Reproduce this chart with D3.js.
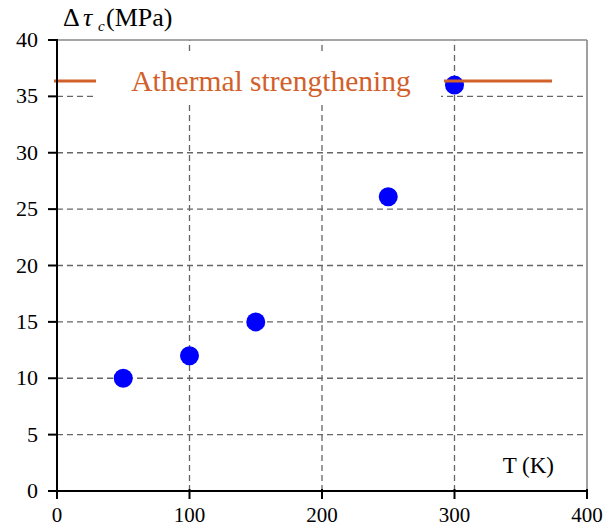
<!DOCTYPE html>
<html>
<head>
<meta charset="utf-8">
<script src="https://cdn.jsdelivr.net/npm/d3@7"></script>
<style>
  body { margin: 0; background: #fff; }
  svg text { font-family: "Liberation Serif", "Times New Roman", Times, serif; }
</style>
</head>
<body>
<div id="chart"></div>
<script>
// Messwerte
const temps = [50, 100, 150, 250, 300];
const dTau = [10, 12, 15, 26.1, 36];
const xTicks = [0, 100, 200, 300, 400];
const yTicks = [0, 5, 10, 15, 20, 25, 30, 35, 40];
const legendLabel = "Athermal strengthening";

const width = 611, height = 528;
const margin = { top: 40, right: 24, bottom: 37, left: 57 };
const orange = "#d2602a";

const svg = d3.select("#chart").append("svg")
    .attr("width", width)
    .attr("height", height);

const x = d3.scaleLinear().domain([0, 400]).range([margin.left, width - margin.right]);
const y = d3.scaleLinear().domain([0, 40]).range([height - margin.bottom, margin.top]);

// Gitterlinien
svg.append("g").selectAll("line")
    .data(yTicks.filter(d => d > 0 && d < 40))
    .enter().append("line")
    .attr("x1", x(0)).attr("x2", x(400))
    .attr("y1", d => y(d)).attr("y2", d => y(d))
    .attr("stroke", "#666")
    .attr("stroke-width", 1.3)
    .attr("stroke-dasharray", "6,4");

svg.append("g").selectAll("line")
    .data(xTicks.filter(d => d > 0 && d < 400))
    .enter().append("line")
    .attr("x1", d => x(d)).attr("x2", d => x(d))
    .attr("y1", y(0)).attr("y2", y(40))
    .attr("stroke", "#666")
    .attr("stroke-width", 1.3)
    .attr("stroke-dasharray", "6,4");

// Rahmen oben / rechts
svg.append("line")
    .attr("x1", x(0)).attr("x2", x(400))
    .attr("y1", y(40)).attr("y2", y(40))
    .attr("stroke", "#888").attr("stroke-width", 1.6);
svg.append("line")
    .attr("x1", x(400)).attr("x2", x(400))
    .attr("y1", y(0)).attr("y2", y(40))
    .attr("stroke", "#888").attr("stroke-width", 1.6);

// Legende (weißer Kasten über dem Gitter)
svg.append("rect")
    .attr("x", 96).attr("y", 55)
    .attr("width", 345).attr("height", 50)
    .attr("fill", "#fff");

svg.append("text")
    .attr("x", 271).attr("y", 91)
    .attr("text-anchor", "middle")
    .attr("fill", orange)
    .style("font-size", "29.5px")
    .text(legendLabel);

svg.append("line")
    .attr("x1", 54).attr("x2", 96)
    .attr("y1", 81).attr("y2", 81)
    .attr("stroke", orange).attr("stroke-width", 3);

// Punkte
svg.append("g").selectAll("circle")
    .data(temps.map((t, i) => [t, dTau[i]]))
    .enter().append("circle")
    .attr("cx", d => x(d[0]))
    .attr("cy", d => y(d[1]))
    .attr("r", 9.5)
    .attr("fill", "#0000ff");

svg.append("line")
    .attr("x1", 444).attr("x2", 552)
    .attr("y1", 81).attr("y2", 81)
    .attr("stroke", orange).attr("stroke-width", 3);

// Achsen
svg.append("line")
    .attr("x1", x(0)).attr("x2", x(0))
    .attr("y1", y(0) + 1).attr("y2", y(40))
    .attr("stroke", "#000").attr("stroke-width", 2);
svg.append("line")
    .attr("x1", x(0) - 1).attr("x2", x(400) + 1)
    .attr("y1", y(0)).attr("y2", y(0))
    .attr("stroke", "#000").attr("stroke-width", 2);

const yAxis = svg.append("g");
yAxis.selectAll("line")
    .data(yTicks).enter().append("line")
    .attr("x1", x(0) - 9).attr("x2", x(0) + 1)
    .attr("y1", d => y(d)).attr("y2", d => y(d))
    .attr("stroke", "#000").attr("stroke-width", 2);
yAxis.selectAll("text")
    .data(yTicks).enter().append("text")
    .attr("x", x(0) - 19)
    .attr("y", d => y(d) + 7)
    .attr("text-anchor", "end")
    .style("font-size", "22px")
    .text(d => d);

const xAxis = svg.append("g");
xAxis.selectAll("line")
    .data(xTicks).enter().append("line")
    .attr("x1", d => x(d)).attr("x2", d => x(d))
    .attr("y1", y(0) - 2).attr("y2", y(0) + 8)
    .attr("stroke", "#000").attr("stroke-width", 2);
xAxis.selectAll("text")
    .data(xTicks).enter().append("text")
    .attr("x", d => x(d))
    .attr("y", y(0) + 31)
    .attr("text-anchor", "middle")
    .style("font-size", "21px")
    .text(d => d);

// Achsentitel
const yTitle = svg.append("g").style("font-size", "26px");
yTitle.append("text").attr("x", 63).attr("y", 26).text("Δ");
yTitle.append("text").attr("x", 83).attr("y", 26).style("font-style", "italic").text("τ");
yTitle.append("text").attr("x", 98).attr("y", 31).style("font-style", "italic").style("font-size", "15px").text("c");
yTitle.append("text").attr("x", 106).attr("y", 26).text("(MPa)");

svg.append("text")
    .attr("x", 554).attr("y", 473)
    .attr("text-anchor", "end")
    .style("font-size", "23px")
    .text("T (K)");
</script>
</body>
</html>
